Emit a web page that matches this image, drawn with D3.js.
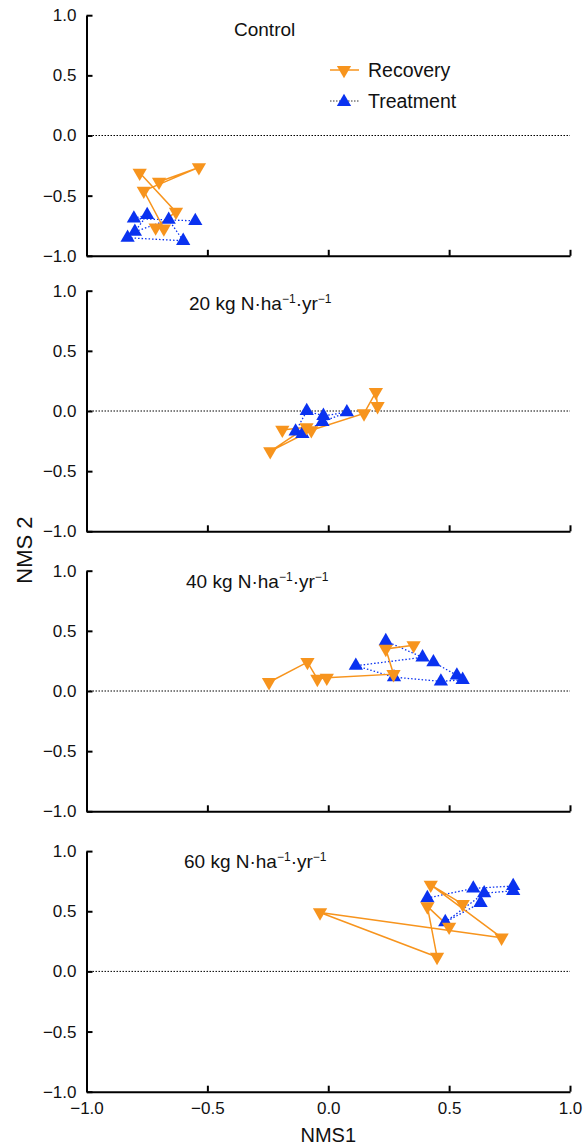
<!DOCTYPE html>
<html>
<head>
<meta charset="utf-8">
<script src="https://cdn.jsdelivr.net/npm/d3@7"></script>
<style>
    body { margin: 0; background: #fff; }
    svg { font-family: "Liberation Sans", Arial, sans-serif; }
    .axis path, .axis line { stroke: #000; stroke-width: 2; }
    .axis text { font-size: 17px; fill: #111; }
</style>
</head>
<body>
<svg id="svg" width="584" height="1145"></svg>
<script>
// NMS scores, [NMS1, NMS2], in trajectory order
var recControl = [[-0.78, -0.31], [-0.63, -0.635], [-0.714, -0.765], [-0.68, -0.773], [-0.763, -0.46], [-0.535, -0.265], [-0.70, -0.385]];
var trtControl = [[-0.83, -0.85], [-0.60, -0.875], [-0.66, -0.70], [-0.80, -0.80], [-0.749, -0.66], [-0.804, -0.69], [-0.55, -0.71]];

var rec20 = [[-0.19, -0.157], [-0.09, -0.135], [-0.24, -0.335], [-0.07, -0.16], [0.148, -0.02], [0.197, 0.157], [0.204, 0.04]];
var trt20 = [[-0.135, -0.17], [-0.089, 0.0], [-0.02, -0.04], [0.077, -0.01], [-0.024, -0.09], [-0.107, -0.19]];

var rec40 = [[-0.245, 0.073], [-0.086, 0.24], [-0.045, 0.10], [-0.006, 0.11], [0.27, 0.14], [0.238, 0.35], [0.353, 0.38]];
var trt40 = [[0.238, 0.415], [0.39, 0.28], [0.114, 0.21], [0.272, 0.115], [0.466, 0.08], [0.556, 0.093], [0.532, 0.13], [0.435, 0.24]];

var rec60 = [[0.556, 0.56], [0.424, 0.72], [0.717, 0.28], [-0.034, 0.49], [0.45, 0.12], [0.41, 0.54], [0.50, 0.37]];
var trt60 = [[0.41, 0.61], [0.60, 0.69], [0.765, 0.71], [0.765, 0.67], [0.645, 0.65], [0.484, 0.41], [0.63, 0.57]];

var panelLabels = ['Control', '20', '40', '60'];
var axisTicks = [-1.0, -0.5, 0.0, 0.5, 1.0];
var seriesNames = ['Recovery', 'Treatment'];

var panels = [
    {rec: recControl, trt: trtControl},
    {rec: rec20, trt: trt20},
    {rec: rec40, trt: trt40},
    {rec: rec60, trt: trt60}
];

var orange = '#f7941d',
    blue = '#0a32f0',
    x0 = 86.5, x1 = 570,
    zeroY = [135.5, 411, 691, 971.4],
    half = 120.3,
    titleX = [234, 189, 186, 184],
    titleDy = [21, 19.5, 17, 17];

var $svg = d3.select('#svg');

var x = d3.scaleLinear().domain([-1, 1]).range([x0, x1]);
var fmt = d3.format('.1f');

var triUp = d3.symbol().type(d3.symbolTriangle).size(88);

panels.forEach(function (p, i) {
    var y = d3.scaleLinear().domain([-1, 1]).range([zeroY[i] + half, zeroY[i] - half]);
    var $g = $svg.append('g').attr('class', 'panel');

    // zero reference line
    $g.append('line')
        .attr('x1', x(-1)).attr('x2', x(1))
        .attr('y1', y(0)).attr('y2', y(0))
        .attr('stroke', '#000')
        .attr('stroke-width', 1)
        .attr('stroke-dasharray', '1.5,1.5');

    $g.append('g')
        .attr('class', 'axis')
        .attr('transform', 'translate(' + x0 + ',0)')
        .call(d3.axisLeft(y).tickValues(axisTicks).tickFormat(fmt)
            .tickSizeInner(-6).tickSizeOuter(0).tickPadding(10));

    $g.append('g')
        .attr('class', 'axis')
        .attr('transform', 'translate(0,' + y(-1) + ')')
        .call(d3.axisBottom(x).tickValues(axisTicks)
            .tickFormat(i === 3 ? fmt : '')
            .tickSizeInner(-6).tickSizeOuter(0).tickPadding(10));

    var line = d3.line()
        .x(function (d) { return x(d[0]); })
        .y(function (d) { return y(d[1]); });

    // treatment trajectory (dotted blue)
    $g.append('path')
        .datum(p.trt)
        .attr('d', line)
        .attr('fill', 'none')
        .attr('stroke', blue)
        .attr('stroke-width', 1.3)
        .attr('stroke-dasharray', '1.5,2');

    // recovery trajectory (solid orange)
    $g.append('path')
        .datum(p.rec)
        .attr('d', line)
        .attr('fill', 'none')
        .attr('stroke', orange)
        .attr('stroke-width', 1.5);

    $g.selectAll('path.trt')
        .data(p.trt)
        .enter()
        .append('path')
        .attr('class', 'trt')
        .attr('d', triUp)
        .attr('fill', blue)
        .attr('transform', function (d) { return 'translate(' + x(d[0]) + ',' + y(d[1]) + ')'; });

    $g.selectAll('path.rec')
        .data(p.rec)
        .enter()
        .append('path')
        .attr('class', 'rec')
        .attr('d', triUp)
        .attr('fill', orange)
        .attr('transform', function (d) { return 'translate(' + x(d[0]) + ',' + y(d[1]) + ') rotate(180)'; });

    // panel title
    var $t = $g.append('text')
        .attr('x', titleX[i])
        .attr('y', y(1) + titleDy[i])
        .attr('font-size', 19)
        .attr('fill', '#111');
    if (i === 0) {
        $t.text(panelLabels[i]);
    } else {
        $t.append('tspan').text(panelLabels[i] + ' kg N\u00b7ha');
        $t.append('tspan').attr('font-size', 12).attr('dy', -7).text('\u22121');
        $t.append('tspan').attr('dy', 7).text('\u00b7yr');
        $t.append('tspan').attr('font-size', 12).attr('dy', -7).text('\u22121');
    }
});

// legend in the Control panel
var legendRows = [
    {name: seriesNames[0], color: orange, rot: 180, dash: null, y: 70},
    {name: seriesNames[1], color: blue, rot: 0, dash: '1.5,1.5', y: 101}
];
legendRows.forEach(function (r) {
    $svg.append('line')
        .attr('x1', 330).attr('x2', 359)
        .attr('y1', r.y).attr('y2', r.y)
        .attr('stroke', r.dash ? '#333' : r.color)
        .attr('stroke-width', r.dash ? 1 : 1.5)
        .attr('stroke-dasharray', r.dash);
    $svg.append('path')
        .attr('d', triUp)
        .attr('fill', r.color)
        .attr('transform', 'translate(344,' + (r.y + (r.dash ? 1 : 0)) + ') rotate(' + r.rot + ')');
    $svg.append('text')
        .attr('x', 368)
        .attr('y', r.y + 7)
        .attr('font-size', 19.5)
        .attr('fill', '#111')
        .text(r.name);
});

// axis titles
$svg.append('text')
    .attr('x', (x0 + x1) / 2)
    .attr('y', 1142)
    .attr('text-anchor', 'middle')
    .attr('font-size', 20)
    .attr('fill', '#111')
    .text('NMS1');

$svg.append('text')
    .attr('transform', 'translate(32,550) rotate(-90)')
    .attr('text-anchor', 'middle')
    .attr('font-size', 22)
    .attr('fill', '#111')
    .text('NMS 2');
</script>
</body>
</html>
